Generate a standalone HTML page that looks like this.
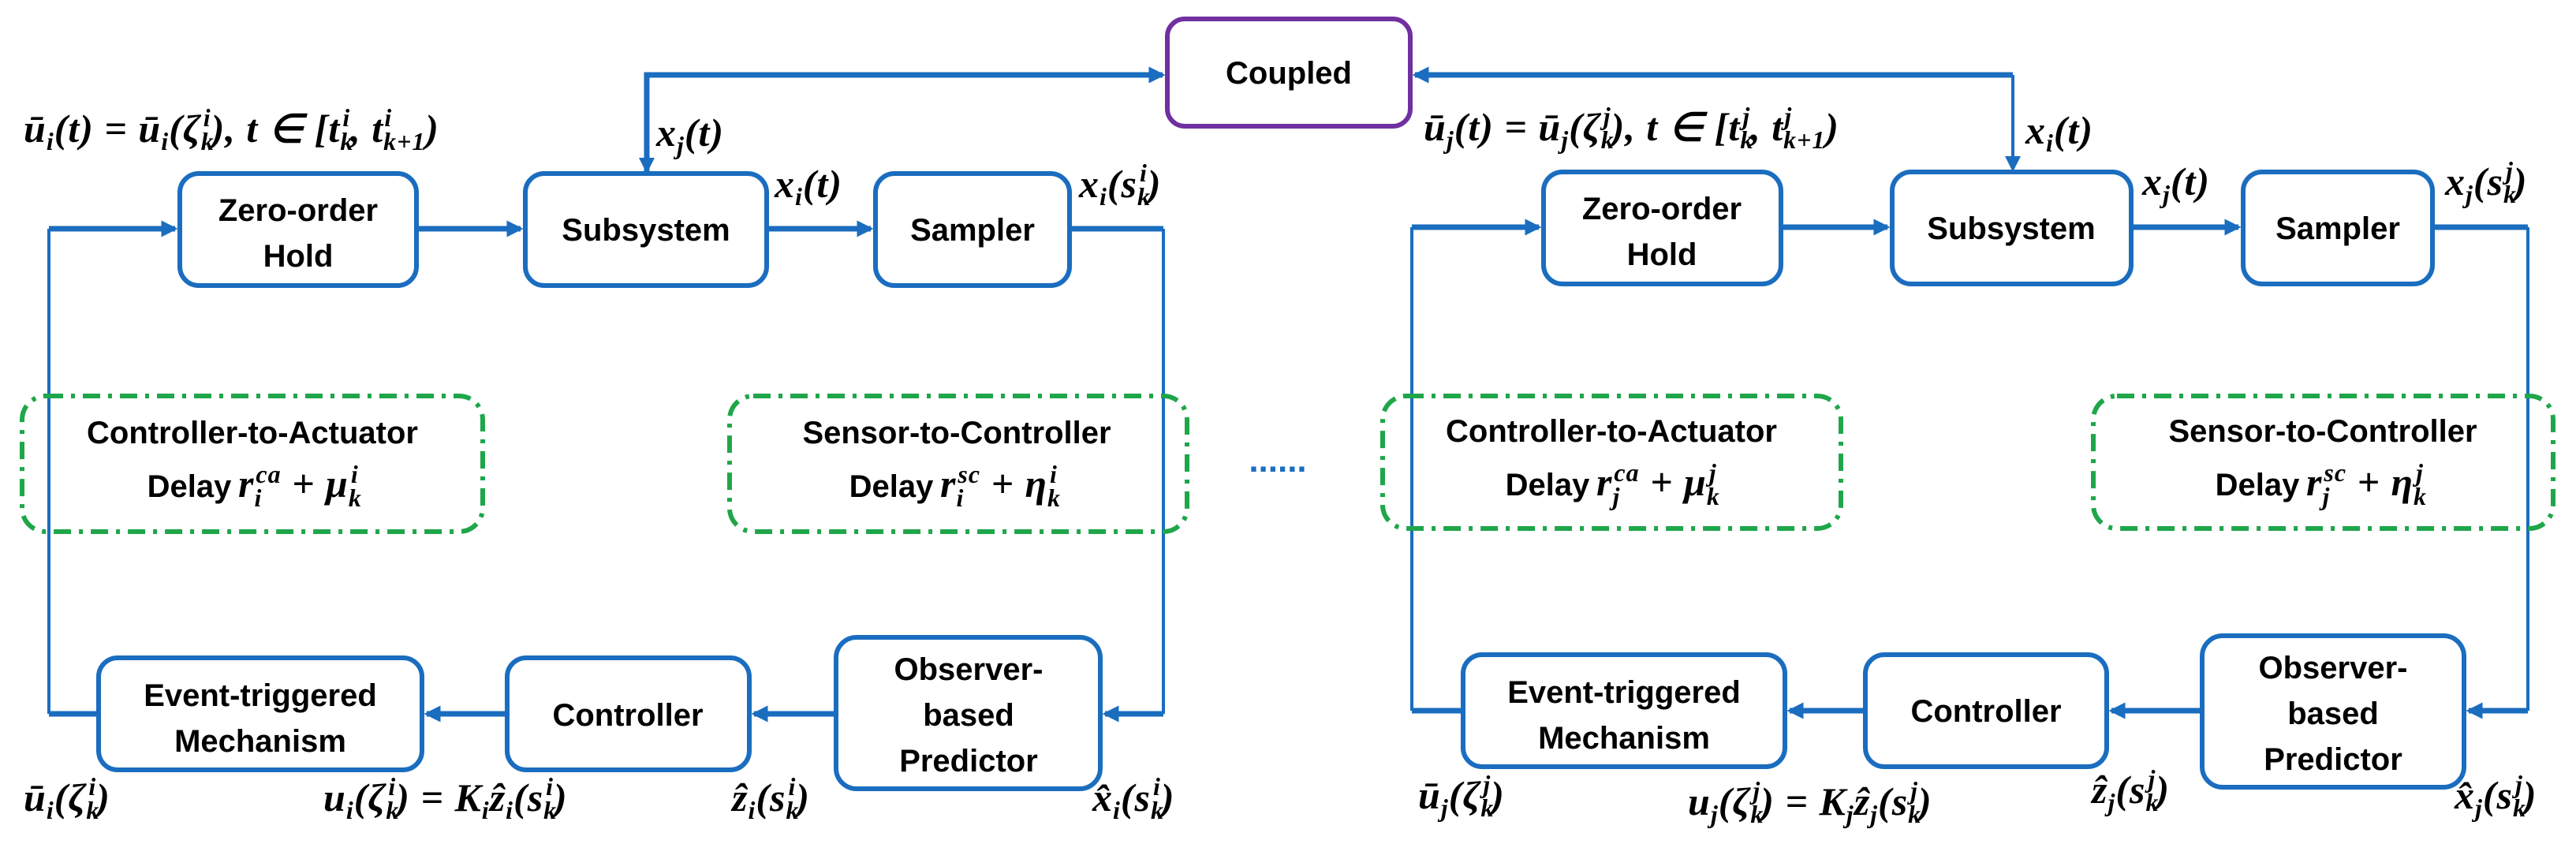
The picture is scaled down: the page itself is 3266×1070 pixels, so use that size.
<!DOCTYPE html>
<html><head><meta charset="utf-8"><style>
html,body{margin:0;padding:0;background:#fff}
svg{display:block}
.bx{fill:#fff;stroke:#1a6dbf;stroke-width:6}
.t{font-family:"Liberation Sans",sans-serif;font-weight:bold;font-size:40px;fill:#000;text-anchor:middle}
.m{font-family:"Liberation Serif",serif;font-style:italic;font-weight:bold;font-size:50px;fill:#000;letter-spacing:1px}
.s{font-size:32px}
.th{stroke:#1a6dbf;stroke-width:7;fill:none}
.tn{stroke:#1a6dbf;stroke-width:4;fill:none}
.ds{fill:none;stroke:#1fa64a;stroke-width:6;stroke-dasharray:22,10,5,10}
</style></head><body>
<svg width="3266" height="1070" viewBox="0 0 3266 1070" xmlns="http://www.w3.org/2000/svg">
<defs>
<marker id="a" markerWidth="3" markerHeight="3" refX="2.5" refY="1.5" orient="auto" markerUnits="strokeWidth"><path d="M0,0 L3,1.5 L0,3 z" fill="#1a6dbf"/></marker>
<marker id="b" markerWidth="5" markerHeight="5" refX="4" refY="2.5" orient="auto" markerUnits="strokeWidth"><path d="M0,0 L5,2.5 L0,5 z" fill="#1a6dbf"/></marker>
</defs>

<rect x="1480" y="24" width="308" height="136" rx="22" fill="#fff" stroke="#7030a0" stroke-width="6"/>
<text class="t" x="1634" y="106">Coupled</text>
<path class="th" d="M820,290 V95 H1474" marker-end="url(#a)"/>
<path class="tn" d="M820,95 V216" marker-end="url(#b)"/>
<path class="th" d="M2552,95 H1794" marker-end="url(#a)"/>
<path class="tn" d="M2552,95 V214" marker-end="url(#b)"/>

<g>
<rect class="bx" x="228" y="220" width="300" height="142" rx="24"/>
<text class="t" x="378" y="280">Zero-order</text><text class="t" x="378" y="338">Hold</text>
<rect class="bx" x="666" y="220" width="306" height="142" rx="24"/>
<text class="t" x="819" y="305">Subsystem</text>
<rect class="bx" x="1110" y="220" width="246" height="142" rx="24"/>
<text class="t" x="1233" y="305">Sampler</text>
<path class="th" d="M528,290 H660" marker-end="url(#a)"/>
<path class="th" d="M972,290 H1104" marker-end="url(#a)"/>
<path class="th" d="M1356,290 H1475"/>
<path class="tn" d="M1475,290 V905"/>
<path class="th" d="M1475,905 H1401" marker-end="url(#a)"/>
<path class="th" d="M62,290 H222" marker-end="url(#a)"/>
<path class="tn" d="M62,290 V905"/>
<path class="th" d="M62,905 H125"/>

<rect class="ds" x="28" y="502" width="584" height="172" rx="30"/>
<text class="t" x="320" y="562">Controller-to-Actuator</text>
<text class="t" x="240" y="630">Delay</text>
<text class="m" x="302" y="630">r<tspan class="s" dy="12">i</tspan><tspan class="s" dy="-30" dx="-8">ca</tspan><tspan dy="18"> + μ</tspan><tspan class="s" dy="12">k</tspan><tspan class="s" dy="-30" dx="-14">i</tspan></text>

<rect class="ds" x="925" y="502" width="580" height="172" rx="30"/>
<text class="t" x="1213" y="562">Sensor-to-Controller</text>
<text class="t" x="1130" y="630">Delay</text>
<text class="m" x="1192" y="630">r<tspan class="s" dy="12">i</tspan><tspan class="s" dy="-30" dx="-8">sc</tspan><tspan dy="18"> + η</tspan><tspan class="s" dy="12">k</tspan><tspan class="s" dy="-30" dx="-14">i</tspan></text>

<rect class="bx" x="125" y="834" width="410" height="142" rx="24"/>
<text class="t" x="330" y="895">Event-triggered</text><text class="t" x="330" y="953">Mechanism</text>
<rect class="bx" x="643" y="834" width="307" height="142" rx="24"/>
<text class="t" x="796" y="920">Controller</text>
<rect class="bx" x="1060" y="808" width="335" height="192" rx="26"/>
<text class="t" x="1228" y="862">Observer-</text><text class="t" x="1228" y="920">based</text><text class="t" x="1228" y="978">Predictor</text>
<path class="th" d="M1060,905 H956" marker-end="url(#a)"/>
<path class="th" d="M643,905 H541" marker-end="url(#a)"/>

<text class="m" x="30" y="180">ū<tspan class="s" dy="10">i</tspan><tspan dy="-10">(t) = ū</tspan><tspan class="s" dy="10">i</tspan><tspan dy="-10">(ζ</tspan><tspan class="s" dy="10">k</tspan><tspan class="s" dy="-30" dx="-14">i</tspan><tspan dy="20">), t ∈ [t</tspan><tspan class="s" dy="10">k</tspan><tspan class="s" dy="-30" dx="-14">i</tspan><tspan dy="20">, t</tspan><tspan class="s" dy="10">k+1</tspan><tspan class="s" dy="-30" dx="-52">i</tspan><tspan dy="20" dx="42">)</tspan></text>
<text class="m" x="832" y="185">x<tspan class="s" dy="10">j</tspan><tspan dy="-10">(t)</tspan></text>
<text class="m" x="982" y="250">x<tspan class="s" dy="10">i</tspan><tspan dy="-10">(t)</tspan></text>
<text class="m" x="1368" y="250">x<tspan class="s" dy="10">i</tspan><tspan dy="-10">(s</tspan><tspan class="s" dy="10">k</tspan><tspan class="s" dy="-30" dx="-14">i</tspan><tspan dy="20">)</tspan></text>
<text class="m" x="30" y="1028">ū<tspan class="s" dy="10">i</tspan><tspan dy="-10">(ζ</tspan><tspan class="s" dy="10">k</tspan><tspan class="s" dy="-30" dx="-14">i</tspan><tspan dy="20">)</tspan></text>
<text class="m" x="410" y="1028">u<tspan class="s" dy="10">i</tspan><tspan dy="-10">(ζ</tspan><tspan class="s" dy="10">k</tspan><tspan class="s" dy="-30" dx="-14">i</tspan><tspan dy="20">) = K</tspan><tspan class="s" dy="10">i</tspan><tspan dy="-10">ẑ</tspan><tspan class="s" dy="10">i</tspan><tspan dy="-10">(s</tspan><tspan class="s" dy="10">k</tspan><tspan class="s" dy="-30" dx="-14">i</tspan><tspan dy="20">)</tspan></text>
<text class="m" x="928" y="1028">ẑ<tspan class="s" dy="10">i</tspan><tspan dy="-10">(s</tspan><tspan class="s" dy="10">k</tspan><tspan class="s" dy="-30" dx="-14">i</tspan><tspan dy="20">)</tspan></text>
<text class="m" x="1385" y="1028">x̂<tspan class="s" dy="10">i</tspan><tspan dy="-10">(s</tspan><tspan class="s" dy="10">k</tspan><tspan class="s" dy="-30" dx="-14">i</tspan><tspan dy="20">)</tspan></text>
</g>

<text x="1620" y="598" font-family="Liberation Sans,sans-serif" font-size="44" font-weight="bold" fill="#1a6dbf" text-anchor="middle">......</text>

<g>
<rect class="bx" x="1957" y="218" width="301" height="142" rx="24"/>
<text class="t" x="2107" y="278">Zero-order</text><text class="t" x="2107" y="336">Hold</text>
<rect class="bx" x="2399" y="218" width="303" height="142" rx="24"/>
<text class="t" x="2550" y="303">Subsystem</text>
<rect class="bx" x="2844" y="218" width="240" height="142" rx="24"/>
<text class="t" x="2964" y="303">Sampler</text>
<path class="th" d="M2258,288 H2393" marker-end="url(#a)"/>
<path class="th" d="M2702,288 H2838" marker-end="url(#a)"/>
<path class="th" d="M3084,288 H3205"/>
<path class="tn" d="M3205,288 V901"/>
<path class="th" d="M3205,901 H3130" marker-end="url(#a)"/>
<path class="th" d="M1790,288 H1951" marker-end="url(#a)"/>
<path class="tn" d="M1790,288 V901"/>
<path class="th" d="M1790,901 H1855"/>

<rect class="ds" x="1753" y="502" width="581" height="168" rx="30"/>
<text class="t" x="2043" y="560">Controller-to-Actuator</text>
<text class="t" x="1962" y="628">Delay</text>
<text class="m" x="2024" y="628">r<tspan class="s" dy="12">j</tspan><tspan class="s" dy="-30" dx="-8">ca</tspan><tspan dy="18"> + μ</tspan><tspan class="s" dy="12">k</tspan><tspan class="s" dy="-30" dx="-14">j</tspan></text>

<rect class="ds" x="2654" y="502" width="583" height="168" rx="30"/>
<text class="t" x="2945" y="560">Sensor-to-Controller</text>
<text class="t" x="2862" y="628">Delay</text>
<text class="m" x="2924" y="628">r<tspan class="s" dy="12">j</tspan><tspan class="s" dy="-30" dx="-8">sc</tspan><tspan dy="18"> + η</tspan><tspan class="s" dy="12">k</tspan><tspan class="s" dy="-30" dx="-14">j</tspan></text>

<rect class="bx" x="1855" y="830" width="408" height="142" rx="24"/>
<text class="t" x="2059" y="891">Event-triggered</text><text class="t" x="2059" y="949">Mechanism</text>
<rect class="bx" x="2365" y="830" width="306" height="142" rx="24"/>
<text class="t" x="2518" y="915">Controller</text>
<rect class="bx" x="2792" y="806" width="332" height="192" rx="26"/>
<text class="t" x="2958" y="860">Observer-</text><text class="t" x="2958" y="918">based</text><text class="t" x="2958" y="976">Predictor</text>
<path class="th" d="M2792,901 H2677" marker-end="url(#a)"/>
<path class="th" d="M2365,901 H2269" marker-end="url(#a)"/>

<text class="m" x="1805" y="178">ū<tspan class="s" dy="10">j</tspan><tspan dy="-10">(t) = ū</tspan><tspan class="s" dy="10">j</tspan><tspan dy="-10">(ζ</tspan><tspan class="s" dy="10">k</tspan><tspan class="s" dy="-30" dx="-14">j</tspan><tspan dy="20">), t ∈ [t</tspan><tspan class="s" dy="10">k</tspan><tspan class="s" dy="-30" dx="-14">j</tspan><tspan dy="20">, t</tspan><tspan class="s" dy="10">k+1</tspan><tspan class="s" dy="-30" dx="-52">j</tspan><tspan dy="20" dx="42">)</tspan></text>
<text class="m" x="2568" y="182">x<tspan class="s" dy="10">i</tspan><tspan dy="-10">(t)</tspan></text>
<text class="m" x="2716" y="247">x<tspan class="s" dy="10">j</tspan><tspan dy="-10">(t)</tspan></text>
<text class="m" x="3100" y="247">x<tspan class="s" dy="10">j</tspan><tspan dy="-10">(s</tspan><tspan class="s" dy="10">k</tspan><tspan class="s" dy="-30" dx="-14">j</tspan><tspan dy="20">)</tspan></text>
<text class="m" x="1798" y="1025">ū<tspan class="s" dy="10">j</tspan><tspan dy="-10">(ζ</tspan><tspan class="s" dy="10">k</tspan><tspan class="s" dy="-30" dx="-14">j</tspan><tspan dy="20">)</tspan></text>
<text class="m" x="2140" y="1033">u<tspan class="s" dy="10">j</tspan><tspan dy="-10">(ζ</tspan><tspan class="s" dy="10">k</tspan><tspan class="s" dy="-30" dx="-14">j</tspan><tspan dy="20">) = K</tspan><tspan class="s" dy="10">j</tspan><tspan dy="-10">ẑ</tspan><tspan class="s" dy="10">j</tspan><tspan dy="-10">(s</tspan><tspan class="s" dy="10">k</tspan><tspan class="s" dy="-30" dx="-14">j</tspan><tspan dy="20">)</tspan></text>
<text class="m" x="2652" y="1018">ẑ<tspan class="s" dy="10">j</tspan><tspan dy="-10">(s</tspan><tspan class="s" dy="10">k</tspan><tspan class="s" dy="-30" dx="-14">j</tspan><tspan dy="20">)</tspan></text>
<text class="m" x="3112" y="1025">x̂<tspan class="s" dy="10">j</tspan><tspan dy="-10">(s</tspan><tspan class="s" dy="10">k</tspan><tspan class="s" dy="-30" dx="-14">j</tspan><tspan dy="20">)</tspan></text>
</g>
</svg>
</body></html>
